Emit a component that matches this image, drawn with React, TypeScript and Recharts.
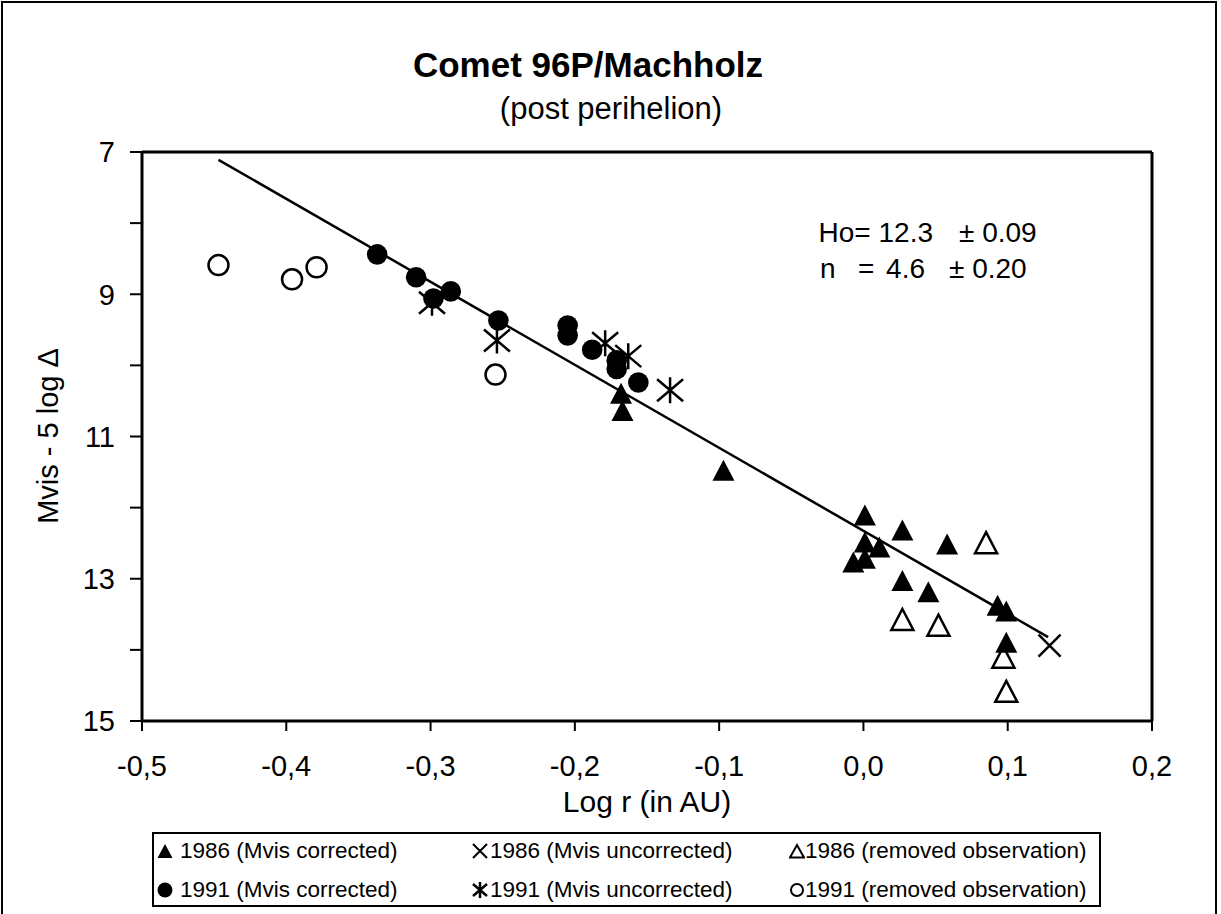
import React from "react";
import { ScatterChart, Scatter, XAxis, YAxis, ReferenceLine, Legend } from "recharts";

// 1986 apparition
const logR1986Corr = [-0.168, -0.167, -0.097, 0.001, 0.027, 0.001, 0.011, -0.007, 0.001, 0.058, 0.027, 0.045, 0.093, 0.099, 0.099];
const mag1986Corr = [10.4, 10.64, 11.48, 12.11, 12.32, 12.49, 12.56, 12.77, 12.72, 12.52, 13.03, 13.19, 13.38, 13.46, 13.9];
const logR1986Unc = [0.129];
const mag1986Unc = [13.94];
const logR1986Rem = [0.085, 0.027, 0.052, 0.097, 0.099];
const mag1986Rem = [12.5, 13.58, 13.66, 14.11, 14.59];

// 1991 apparition
const logR1991Corr = [-0.337, -0.31, -0.298, -0.286, -0.253, -0.205, -0.205, -0.188, -0.171, -0.171, -0.156];
const mag1991Corr = [8.44, 8.76, 9.06, 8.96, 9.37, 9.44, 9.58, 9.78, 9.93, 10.05, 10.24];
const logR1991Unc = [-0.299, -0.254, -0.179, -0.163, -0.134];
const mag1991Unc = [9.12, 9.65, 9.69, 9.87, 10.35];
const logR1991Rem = [-0.447, -0.396, -0.379, -0.255];
const mag1991Rem = [8.59, 8.79, 8.62, 10.13];

// fitted line end points
const fitLogR = [-0.447, 0.128];
const fitMag = [7.11, 13.82];

const xTicks = [-0.5, -0.4, -0.3, -0.2, -0.1, 0, 0.1, 0.2];
const yTicks = [7, 8, 9, 10, 11, 12, 13, 14, 15];

const legendLabels = [
  "1986 (Mvis corrected)",
  "1986 (Mvis uncorrected)",
  "1986 (removed observation)",
  "1991 (Mvis corrected)",
  "1991 (Mvis uncorrected)",
  "1991 (removed observation)",
];

const FONT = "'Liberation Sans', Arial, Helvetica, sans-serif";

const pts = (xs: number[], ys: number[]) => xs.map((x, i) => ({ x, y: ys[i] }));

const FilledTriangle = (p: any) => {
  const { cx, cy } = p;
  return <polygon points={`${cx},${cy - 11} ${cx + 11},${cy + 10} ${cx - 11},${cy + 10}`} fill="#000" />;
};
const OpenTriangle = (p: any) => {
  const { cx, cy } = p;
  return (
    <polygon
      points={`${cx},${cy - 11} ${cx + 11},${cy + 10} ${cx - 11},${cy + 10}`}
      fill="none"
      stroke="#000"
      strokeWidth={2.5}
    />
  );
};
const FilledCircle = (p: any) => <circle cx={p.cx} cy={p.cy} r={10.3} fill="#000" />;
const OpenCircle = (p: any) => (
  <circle cx={p.cx} cy={p.cy} r={10} fill="none" stroke="#000" strokeWidth={2.5} />
);
const Cross = (p: any) => {
  const { cx, cy } = p;
  return (
    <path
      d={`M${cx - 11},${cy - 11}L${cx + 11},${cy + 11}M${cx - 11},${cy + 11}L${cx + 11},${cy - 11}`}
      stroke="#000"
      strokeWidth={2.5}
    />
  );
};
const Asterisk = (p: any) => {
  const { cx, cy } = p;
  return (
    <path
      d={`M${cx - 13},${cy - 11}L${cx + 13},${cy + 11}M${cx - 13},${cy + 11}L${cx + 13},${cy - 11}M${cx},${cy - 13}L${cx},${cy + 13}`}
      stroke="#000"
      strokeWidth={2.5}
    />
  );
};
const NoDot = () => <g />;

const LegendMark = ({ kind }: { kind: number }) => {
  const c = 8;
  let el: React.ReactNode = null;
  if (kind === 0) el = <polygon points={`${c},1 ${c + 7.5},15 ${c - 7.5},15`} fill="#000" />;
  if (kind === 1)
    el = <path d={`M${c - 7},${c - 7}L${c + 7},${c + 7}M${c - 7},${c + 7}L${c + 7},${c - 7}`} stroke="#000" strokeWidth={2} />;
  if (kind === 2)
    el = <polygon points={`${c},2 ${c + 7},14.5 ${c - 7},14.5`} fill="none" stroke="#000" strokeWidth={2} />;
  if (kind === 3) el = <circle cx={c} cy={c} r={7.5} fill="#000" />;
  if (kind === 4)
    el = (
      <path
        d={`M${c - 7},${c - 6}L${c + 7},${c + 6}M${c - 7},${c + 6}L${c + 7},${c - 6}M${c},${c - 8}L${c},${c + 8}`}
        stroke="#000"
        strokeWidth={2.5}
      />
    );
  if (kind === 5) el = <circle cx={c} cy={c} r={6} fill="none" stroke="#000" strokeWidth={2} />;
  return (
    <svg width={16} height={16} style={{ display: "block" }}>
      {el}
    </svg>
  );
};

const LegendBox = () => {
  const colMark = [13, 328, 645];
  const colText = [28, 338, 653];
  const rowY = [19, 58];
  return (
    <div
      style={{
        position: "relative",
        width: 949,
        height: 75,
        border: "2px solid #000",
        boxSizing: "border-box",
        background: "#fff",
        fontFamily: FONT,
        fontSize: 22.5,
        color: "#000",
      }}
    >
      {legendLabels.map((label, i) => {
        const col = i % 3;
        const row = Math.floor(i / 3);
        return (
          <React.Fragment key={label}>
            <div style={{ position: "absolute", left: colMark[col] - 8 - 2, top: rowY[row] - 8 - 2 }}>
              <LegendMark kind={i} />
            </div>
            <div
              style={{
                position: "absolute",
                left: colText[col] - 2,
                top: rowY[row] - 2,
                transform: "translateY(-50%)",
                whiteSpace: "nowrap",
                lineHeight: 1,
              }}
            >
              {label}
            </div>
          </React.Fragment>
        );
      })}
    </div>
  );
};

const fmtX = (v: number) => v.toFixed(1).replace(".", ",");
const fmtY = (v: number) => (v % 2 === 1 ? String(v) : "");

export default function App() {
  return (
    <div
      style={{
        position: "absolute",
        left: 0,
        top: 0,
        width: 1221,
        height: 914,
        overflow: "hidden",
        background: "#fff",
        fontFamily: FONT,
      }}
    >
      <div
        style={{
          position: "absolute",
          left: 1,
          top: 1,
          width: 1216,
          height: 940,
          border: "2px solid #000",
          boxSizing: "border-box",
        }}
      />
      <div style={{ position: "absolute", left: 0, top: 0 }}>
        <ScatterChart width={1221} height={914} margin={{ top: 152, right: 69, bottom: 133, left: 0 }}>
          <XAxis
            type="number"
            dataKey="x"
            domain={[-0.5, 0.2]}
            ticks={xTicks}
            interval={0}
            tickFormatter={fmtX}
            height={60}
            tickSize={10}
            tickMargin={24}
            axisLine={{ stroke: "#000", strokeWidth: 3 }}
            tickLine={{ stroke: "#000", strokeWidth: 2 }}
            tick={{ fontSize: 29, fill: "#000", fontFamily: FONT }}
          />
          <YAxis
            type="number"
            dataKey="y"
            domain={[7, 15]}
            reversed
            ticks={yTicks}
            interval={0}
            tickFormatter={fmtY}
            width={142}
            tickSize={12}
            tickMargin={15}
            axisLine={{ stroke: "#000", strokeWidth: 3 }}
            tickLine={{ stroke: "#000", strokeWidth: 2 }}
            tick={{ fontSize: 29, fill: "#000", fontFamily: FONT }}
          />
          <ReferenceLine y={7} stroke="#000" strokeWidth={3} />
          <ReferenceLine x={0.2} stroke="#000" strokeWidth={3} />
          <Scatter
            name="fit"
            data={pts(fitLogR, fitMag)}
            line={{ stroke: "#000", strokeWidth: 2.5 }}
            shape={NoDot}
            isAnimationActive={false}
            legendType="none"
          />
          <Scatter name={legendLabels[5]} data={pts(logR1991Rem, mag1991Rem)} shape={OpenCircle} isAnimationActive={false} />
          <Scatter name={legendLabels[2]} data={pts(logR1986Rem, mag1986Rem)} shape={OpenTriangle} isAnimationActive={false} />
          <Scatter name={legendLabels[1]} data={pts(logR1986Unc, mag1986Unc)} shape={Cross} isAnimationActive={false} />
          <Scatter name={legendLabels[4]} data={pts(logR1991Unc, mag1991Unc)} shape={Asterisk} isAnimationActive={false} />
          <Scatter name={legendLabels[3]} data={pts(logR1991Corr, mag1991Corr)} shape={FilledCircle} isAnimationActive={false} />
          <Scatter name={legendLabels[0]} data={pts(logR1986Corr, mag1986Corr)} shape={FilledTriangle} isAnimationActive={false} />
          <Legend
            layout="horizontal"
            verticalAlign="middle"
            align="center"
            content={() => <LegendBox />}
            wrapperStyle={{ left: 152, top: 832, width: 949, height: 75 }}
          />
        </ScatterChart>
      </div>
      <svg
        width={1221}
        height={914}
        style={{ position: "absolute", left: 0, top: 0, pointerEvents: "none" }}
        fontFamily={FONT}
      >
        <text x={588} y={77} textAnchor="middle" fontSize={35} fontWeight="bold">
          Comet 96P/Machholz
        </text>
        <text x={611} y={119} textAnchor="middle" fontSize={31}>
          (post perihelion)
        </text>
        <text x={647} y={812} textAnchor="middle" fontSize={30}>
          Log r (in AU)
        </text>
        <text transform="translate(58,436) rotate(-90)" textAnchor="middle" fontSize={29}>
          Mvis - 5 log Δ
        </text>
        <text x={933} y={242} textAnchor="end" fontSize={28}>
          Ho= 12.3
        </text>
        <text x={959} y={242} fontSize={28}>
          ± 0.09
        </text>
        <text x={820} y={278} fontSize={28}>
          n
        </text>
        <text x={858} y={278} fontSize={28}>
          =
        </text>
        <text x={925} y={278} textAnchor="end" fontSize={28}>
          4.6
        </text>
        <text x={949} y={278} fontSize={28}>
          ± 0.20
        </text>
      </svg>
    </div>
  );
}
